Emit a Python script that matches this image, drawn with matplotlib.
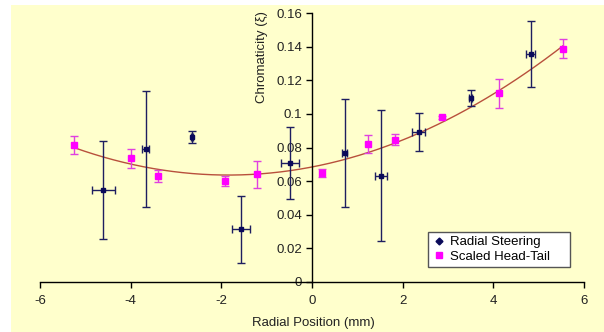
import numpy as np
import matplotlib
matplotlib.use("Agg")
import matplotlib.pyplot as plt
from matplotlib.lines import Line2D

plt.rcParams['font.family'] = ['Liberation Sans', 'DejaVu Sans']

# Radial Steering data
rs_x = [-4.60, -3.67, -2.645, -1.57, -0.49, 0.72, 1.525, 2.35, 3.50, 4.82]
rs_y = [0.0547, 0.0790, 0.0861, 0.0313, 0.0706, 0.0769, 0.0631, 0.0892, 0.1096, 0.1354]
rs_yerr = [0.029, 0.0345, 0.0037, 0.020, 0.0213, 0.032, 0.039, 0.0114, 0.0047, 0.0197]
rs_xerr = [0.25, 0.075, 0.03, 0.20, 0.20, 0.05, 0.14, 0.14, 0.03, 0.10]

# Scaled Head-Tail data
ht_x = [-5.24, -3.99, -3.40, -1.91, -1.21, 0.22, 1.23, 1.83, 2.87, 4.13, 5.53]
ht_y = [0.0813, 0.0736, 0.0631, 0.0603, 0.0642, 0.0650, 0.0821, 0.0847, 0.0980, 0.1122, 0.1388]
ht_yerr = [0.0054, 0.0058, 0.0037, 0.0030, 0.0080, 0.0025, 0.0053, 0.0033, 0.0010, 0.0086, 0.0055]

x_ticks = [-6, -4, -2, 0, 2, 4, 6]
y_ticks = [0, 0.02, 0.04, 0.06, 0.08, 0.1, 0.12, 0.14, 0.16]
y_ticklabels = ['0', '0.02', '0.04', '0.06', '0.08', '0.1', '0.12', '0.14', '0.16']

W, H = 604, 332
fig = plt.figure(figsize=(W / 100, H / 100), dpi=100)
fig.patch.set_facecolor('white')

bg = fig.add_axes([11 / W, 0, 1 - 11 / W, 1 - 5 / H], zorder=-5)
bg.set_facecolor('#FFFFCC')
bg.set_xticks([])
bg.set_yticks([])
for s in bg.spines.values():
    s.set_visible(False)

ax = fig.add_axes([40 / W, 1 - 282 / H, 544 / W, 269 / H], zorder=1)
ax.set_facecolor('none')

# quadratic trendline through head-tail data
coef = np.polyfit(ht_x, ht_y, 2)
xx = np.linspace(min(ht_x), max(ht_x), 200)
ax.plot(xx, np.polyval(coef, xx), color='#B8503C', lw=1.0, zorder=2)

ax.errorbar(rs_x, rs_y, yerr=rs_yerr, xerr=rs_xerr, fmt='s', color='#0A0A5A',
            ecolor='#1E1E60', elinewidth=1, capsize=3, capthick=1, markersize=3,
            zorder=3)
ax.errorbar(ht_x, ht_y, yerr=ht_yerr, fmt='s', color='#FF00FF', ecolor='#E040E0',
            elinewidth=1, capsize=3, capthick=1, markersize=4.5,
            zorder=4)

ax.set_xlim(-6, 6)
ax.set_ylim(0, 0.16)
ax.spines['left'].set_position(('data', 0))
ax.spines['bottom'].set_position(('data', 0))
ax.spines['top'].set_visible(False)
ax.spines['right'].set_visible(False)
for s in ('left', 'bottom'):
    ax.spines[s].set_color('black')
    ax.spines[s].set_linewidth(1)

ax.set_xticks(x_ticks)
ax.set_xticklabels([str(v) for v in x_ticks])
ax.set_yticks(y_ticks)
ax.set_yticklabels(y_ticklabels)
ax.tick_params(axis='both', direction='out', length=4, width=1, labelsize=9.5,
               colors='black', labelcolor='#222222')
ax.tick_params(axis='x', pad=5)
ax.tick_params(axis='y', pad=3)

ax.text(0.408, 0.835, 'Chromaticity (ξ)', transform=ax.transAxes, rotation=90,
        ha='center', va='center', fontsize=9.5, color='#222222')
fig.text(313 / W, 1 - 323 / H, 'Radial Position (mm)', ha='center', va='center',
         fontsize=9.5, color='#222222')

handles = [
    Line2D([], [], ls='none', marker='D', markersize=3.5, color='#0A0A5A'),
    Line2D([], [], ls='none', marker='s', markersize=4, color='#FF00FF'),
]
leg = ax.legend(handles, ['Radial Steering', 'Scaled Head-Tail'],
                loc='lower left', bbox_to_anchor=(428 / W, 1 - 267 / H, 142 / W, 35 / H),
                bbox_transform=fig.transFigure, mode='expand', fontsize=9.5,
                frameon=True, fancybox=False, borderpad=0.3, labelspacing=0.2,
                handlelength=1.0, handletextpad=0.4, borderaxespad=0)
leg.get_frame().set_edgecolor('#555555')
leg.get_frame().set_facecolor('white')
leg.get_frame().set_linewidth(1)
leg.get_frame().set_alpha(1)

fig.savefig('out.png', dpi=100, facecolor=fig.get_facecolor())
